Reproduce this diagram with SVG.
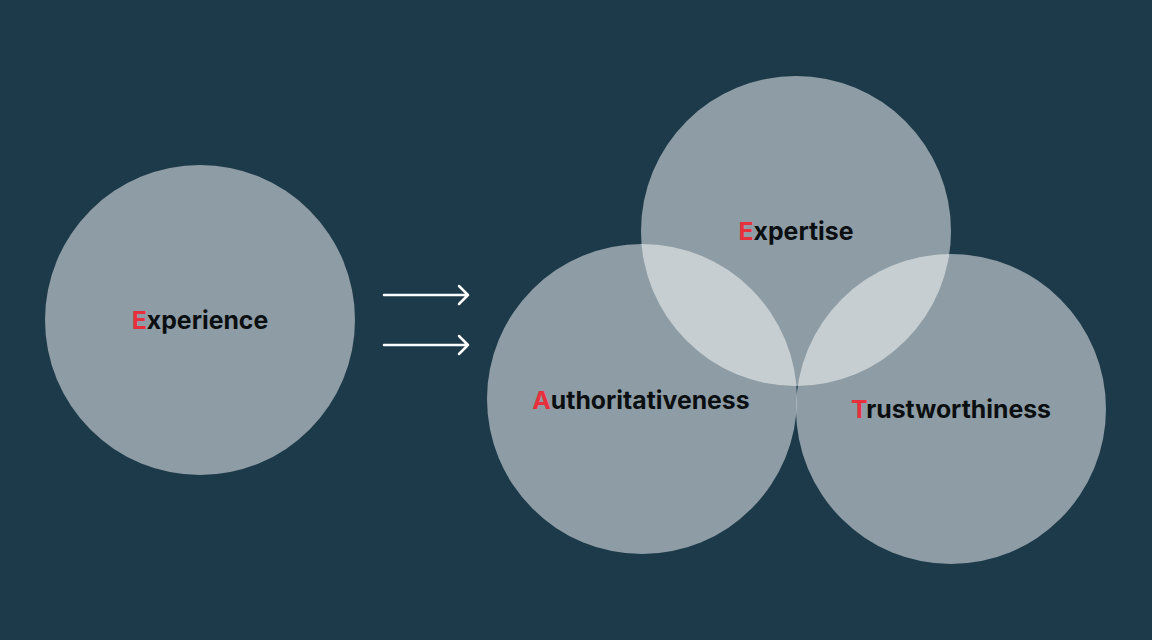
<svg xmlns="http://www.w3.org/2000/svg" width="1152" height="640" viewBox="0 0 1152 640">
<defs>
<style>
.c{fill:#ffffff;fill-opacity:0.5}
.t{font-family:Inter,"Liberation Sans",sans-serif;font-weight:700;font-size:24.8px;fill:#0b0f12;text-anchor:middle}
.r{fill:#e8303d}
.a{stroke:#ffffff;stroke-width:2.5;fill:none;stroke-linecap:round;stroke-linejoin:round}
</style>
</defs>
<rect width="1152" height="640" fill="#1d3a4a"/>
<g id="experience"><circle class="c" cx="200" cy="320" r="155"/><text class="t" x="200" y="329"><tspan class="r">E</tspan>xperience</text></g>
<g id="connectors">
<path class="a" d="M384 295H468M459 286L468 295L459 304"/>
<path class="a" d="M384 345H468M459 336L468 345L459 354"/>
</g>
<g id="expertise"><circle class="c" cx="796" cy="231" r="155"/></g>
<g id="authoritativeness"><circle class="c" cx="642" cy="399" r="155"/></g>
<g id="trustworthiness"><circle class="c" cx="951" cy="409" r="155"/></g>
<g id="labels">
<text class="t" x="796" y="240"><tspan class="r">E</tspan>xpertise</text>
<text class="t" x="641" y="409"><tspan class="r">A</tspan>uthoritativeness</text>
<text class="t" x="951" y="418"><tspan class="r">T</tspan>rustworthiness</text>
</g>
</svg>
